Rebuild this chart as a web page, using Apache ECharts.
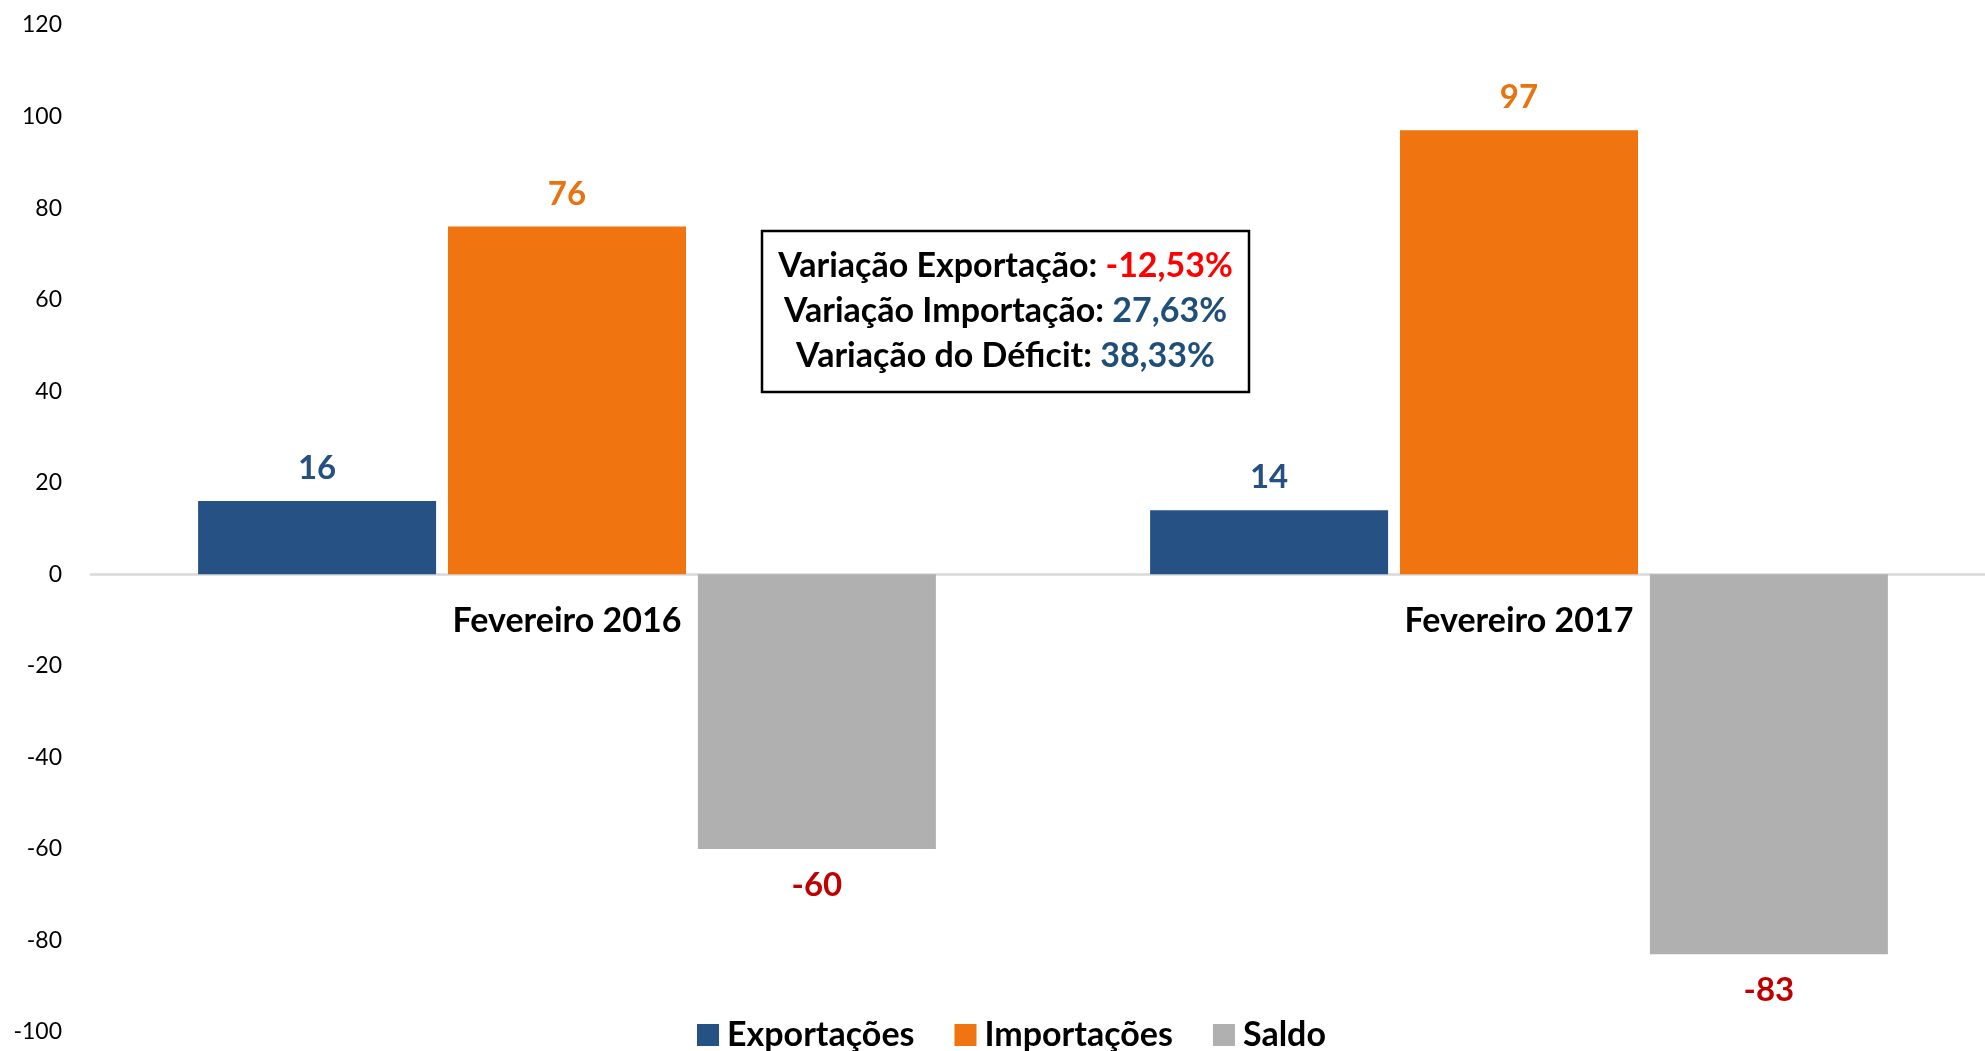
<!DOCTYPE html>
<html>
<head>
<meta charset="utf-8">
<script src="https://cdn.jsdelivr.net/npm/echarts@6/dist/echarts.min.js"></script>
<style>
  html, body { margin: 0; padding: 0; background: #fff; }
  #chart { width: 1985px; height: 1051px; }
</style>
</head>
<body>
<div id="chart"></div>
<script>
// dados
const categorias = ['Fevereiro 2016', 'Fevereiro 2017']
const exportacoes = [16, 14]
const importacoes = [76, 97]
const saldo = [-60, -83]
const variacoes = [
  ['Variação Exportação: ', '-12,53%', 'neg'],
  ['Variação Importação: ', '27,63%', 'pos'],
  ['Variação do Déficit: ', '38,33%', 'pos']
]

const FONT = 'Lato'
const GRID_BOTTOM = 19
const chart = echarts.init(document.getElementById('chart'))

// texto da caixa de variações
const boxText = variacoes.map(v => '{b|' + v[0] + '}{' + v[2] + '|' + v[1] + '}').join('\n')

function barLabel(color, pos, dist) {
  return {
    show: true,
    position: pos,
    distance: dist,
    color: color,
    fontFamily: FONT,
    fontWeight: 'bold',
    fontSize: 33
  }
}

const richStyle = (fill) => ({ fontFamily: FONT, fontWeight: 'bold', fontSize: 34, lineHeight: 45, fill: fill })

chart.setOption({
  backgroundColor: '#fff',
  animation: false,
  grid: { left: 91, right: -10, top: 25, bottom: GRID_BOTTOM, containLabel: false, outerBoundsMode: 'none' },
  legend: {
    data: ['Exportações', 'Importações', 'Saldo'],
    left: 692,
    top: 1013,
    itemWidth: 22,
    itemHeight: 22,
    itemGap: 40,
    icon: 'rect',
    textStyle: { fontFamily: FONT, fontWeight: 'bold', fontSize: 34, color: '#000', padding: [0, 0, 0, 3] }
  },
  xAxis: {
    type: 'category',
    data: categorias,
    axisLine: { onZero: false, lineStyle: { color: '#d9d9d9', width: 2.5 } },
    axisTick: { show: false },
    axisLabel: { margin: 30, color: '#000', fontFamily: FONT, fontWeight: 'bold', fontSize: 34 }
  },
  yAxis: {
    type: 'value',
    min: -100,
    max: 120,
    interval: 20,
    splitLine: { show: false },
    axisLine: { show: false },
    axisTick: { show: false },
    axisLabel: { margin: 29, color: '#000', fontFamily: FONT, fontSize: 23 }
  },
  series: [
    {
      name: 'Exportações',
      type: 'bar',
      data: exportacoes,
      barWidth: '25%',
      barGap: '5%',
      itemStyle: { color: '#265185' },
      label: barLabel('#264f82', 'top', 16)
    },
    {
      name: 'Importações',
      type: 'bar',
      data: importacoes,
      barWidth: '25%',
      barGap: '5%',
      itemStyle: { color: '#f07511' },
      label: barLabel('#e8730f', 'top', 16)
    },
    {
      name: 'Saldo',
      type: 'bar',
      data: saldo,
      barWidth: '25%',
      barGap: '5%',
      itemStyle: { color: '#b0b0b0' },
      label: barLabel('#c00000', 'bottom', 20)
    }
  ],
  graphic: [
    {
      type: 'rect',
      shape: { x: 762, y: 231, width: 487, height: 161 },
      style: { fill: '#fff', stroke: '#000', lineWidth: 2.5 },
      z: 10
    },
    {
      type: 'text',
      x: 1005.5,
      y: 311.5,
      z: 11,
      style: {
        text: boxText,
        align: 'center',
        verticalAlign: 'middle',
        fontFamily: FONT,
        fontWeight: 'bold',
        fontSize: 34,
        lineHeight: 45,
        rich: {
          b: richStyle('#000'),
          neg: richStyle('#ff0000'),
          pos: richStyle('#1f4e79')
        }
      }
    }
  ]
})

// eixo das categorias passa pelo zero, com os rótulos logo abaixo
const zeroY = chart.convertToPixel({ yAxisIndex: 0 }, 0)
chart.setOption({ xAxis: { offset: -((1051 - GRID_BOTTOM) - zeroY) } })
</script>
</body>
</html>
